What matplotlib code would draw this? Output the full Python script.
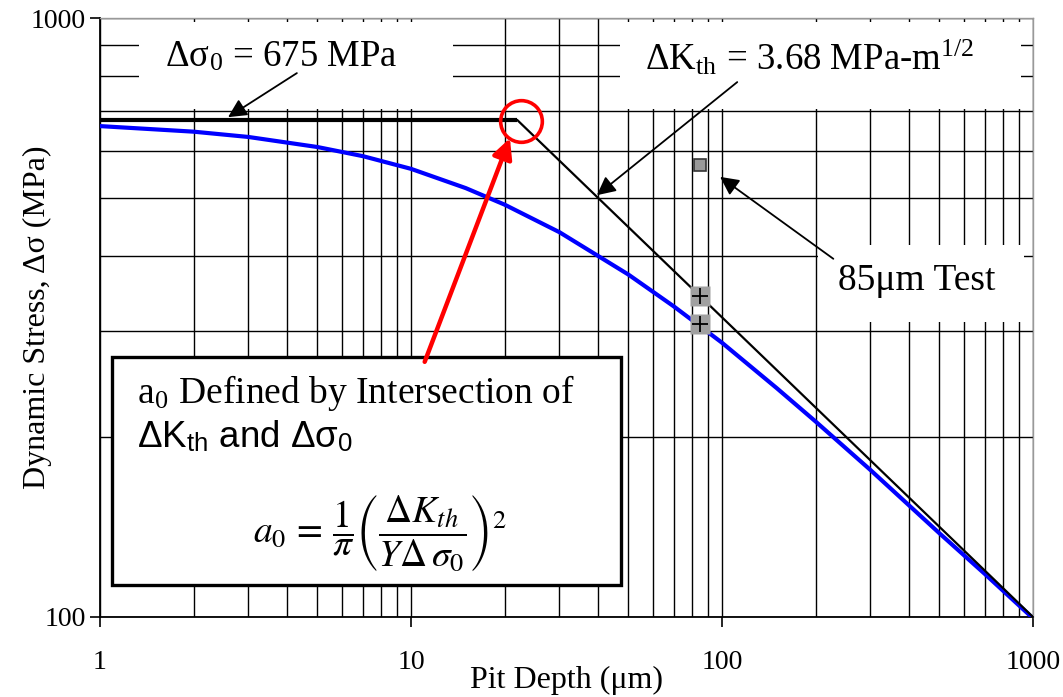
"""Kitagawa-Takahashi style plot: dynamic stress vs pit depth."""

import matplotlib
matplotlib.use("Agg")
import matplotlib.pyplot as plt
from matplotlib.patches import Rectangle
from matplotlib.ticker import LogLocator, FixedFormatter, FixedLocator, NullFormatter

SERIF = "Liberation Serif"
SANS = "Liberation Sans"

# threshold line (delta sigma_0 plateau, then delta K_th slope)
thresh_x = [1, 22, 1000]
thresh_y = [675, 675, 100]

# El Haddad type curve
curve_x = [1, 2, 3, 5, 7, 10, 15, 20, 30, 50, 70, 100, 150, 200, 300, 500, 700, 1000]
curve_y = [660, 646, 633, 609, 588, 560, 520, 488, 439, 373, 330, 287, 241, 212, 176, 138, 118, 99.5]

# 85 um test points
test_x = [85]
test_y = [568]
runout_x = [85, 85]
runout_y = [343, 308]

a0_x = [22.6]
a0_y = [673]

x_ticks = [1, 10, 100, 1000]
x_labels = ["1", "10", "100", "1000"]
y_ticks = [100, 1000]
y_labels = ["100", "1000"]

fig = plt.figure(figsize=(10.63, 6.97), dpi=100)
ax = fig.add_axes([100 / 1063, 1 - 617 / 697, 933 / 1063, 599 / 697])
ax.set_xscale("log")
ax.set_yscale("log")
ax.set_xlim(1, 1000)
ax.set_ylim(100, 1000)

ax.xaxis.set_major_locator(FixedLocator(x_ticks))
ax.xaxis.set_major_formatter(FixedFormatter(x_labels))
ax.yaxis.set_major_locator(FixedLocator(y_ticks))
ax.yaxis.set_major_formatter(FixedFormatter(y_labels))
ax.xaxis.set_minor_locator(LogLocator(base=10, subs=range(2, 10)))
ax.yaxis.set_minor_locator(LogLocator(base=10, subs=range(2, 10)))
ax.xaxis.set_minor_formatter(NullFormatter())
ax.yaxis.set_minor_formatter(NullFormatter())
ax.tick_params(which="minor", length=0)
ax.tick_params(axis="x", which="major", length=7, width=1.2, pad=17,
               labelsize=20, labelfontfamily=SERIF)
ax.tick_params(axis="y", which="major", length=7, width=1.2, pad=3,
               labelsize=20, labelfontfamily=SERIF)

ax.set_axisbelow(True)
ax.grid(which="both", color="black", linewidth=1.0)
for side in ("left", "bottom"):
    ax.spines[side].set_color("black")
    ax.spines[side].set_linewidth(1.3)
for side in ("top", "right"):
    ax.spines[side].set_color("#999999")
    ax.spines[side].set_linewidth(1.0)

# white patches that hide the grid behind the labels
for x0, x1, y0, y1 in [(0.042, 0.378, 0.848, 0.993),
                       (0.557, 0.987, 0.848, 0.993),
                       (0.770, 0.990, 0.492, 0.621)]:
    ax.add_patch(Rectangle((x0, y0), x1 - x0, y1 - y0, transform=ax.transAxes,
                           facecolor="white", edgecolor="none", zorder=1))

# curves
ax.plot(curve_x, curve_y, color="#0000ff", linewidth=3.0, zorder=3)
ax.plot(thresh_x[:2], thresh_y[:2], color="black", linewidth=3.0, zorder=4,
        solid_capstyle="butt")
ax.plot(thresh_x[1:], thresh_y[1:], color="black", linewidth=1.6, zorder=4)

ax.plot(test_x, test_y, linestyle="none", marker="s", markersize=9,
        markerfacecolor="#999999", markeredgecolor="#333333", markeredgewidth=1.2, zorder=5)
ax.plot(runout_x, runout_y, linestyle="none", marker="s", markersize=14,
        markerfacecolor="#a0a0a0", markeredgecolor="none", zorder=5)
ax.plot(runout_x, runout_y, linestyle="none", marker="+", markersize=11,
        markeredgecolor="black", markeredgewidth=1.3, zorder=6)

ax.plot(a0_x, a0_y, linestyle="none", marker="o", markersize=30,
        markerfacecolor="none", markeredgecolor="#ff0000", markeredgewidth=2.6, zorder=6)

# labels with arrows
black_arrow = dict(arrowstyle="-|>", mutation_scale=28, linewidth=1.3,
                   color="black", shrinkA=0, shrinkB=0)
ax.annotate("", xy=(2.58, 683), xycoords="data", xytext=(0.211, 0.908),
            textcoords="axes fraction", arrowprops=black_arrow, zorder=7)
ax.text(0.070, 0.935, r"Δσ$_\mathregular{0}$ = 675 MPa", transform=ax.transAxes,
        fontsize=26.5, family=SERIF, math_fontfamily="stix", va="center", ha="left")

ax.annotate("", xy=(39.6, 506), xycoords="data", xytext=(0.683, 0.893),
            textcoords="axes fraction", arrowprops=black_arrow, zorder=7)
ax.text(0.584, 0.932, r"ΔK$_\mathregular{th}$ = 3.68 MPa-m$^\mathregular{1/2}$",
        transform=ax.transAxes, fontsize=26.5, family=SERIF, math_fontfamily="stix",
        va="center", ha="left")

ax.annotate("", xy=(98.6, 543), xycoords="data", xytext=(0.786, 0.598),
            textcoords="axes fraction", arrowprops=black_arrow, zorder=7)
ax.text(0.791, 0.561, "85μm Test", transform=ax.transAxes, fontsize=27,
        family=SERIF, va="center", ha="left")

# explanation box
ax.add_patch(Rectangle((0.0129, 0.0534), 0.5455, 0.3806, transform=ax.transAxes,
                       facecolor="white", edgecolor="black", linewidth=2.4, zorder=8))
ax.text(0.0397, 0.357, r"a$_\mathregular{0}$ Defined by Intersection of",
        transform=ax.transAxes, fontsize=27, family=SERIF, math_fontfamily="stix",
        va="baseline", ha="left", zorder=9)
ax.text(0.0397, 0.284, r"ΔK$_\mathregular{th}$ and Δσ$_\mathregular{0}$",
        transform=ax.transAxes, fontsize=26.5, family=SANS, math_fontfamily="stixsans",
        va="baseline", ha="left", zorder=9)
ax.text(0.300, 0.140,
        r"$a_0 \,=\, \dfrac{1}{\pi}\left(\dfrac{\Delta K_{th}}{Y\Delta\,\sigma_0}\right)^2$",
        transform=ax.transAxes, fontsize=27, math_fontfamily="stix",
        va="center", ha="center", zorder=9)

ax.annotate("", xy=(20.8, 630), xycoords="data", xytext=(0.348, 0.426),
            textcoords="axes fraction", zorder=10,
            arrowprops=dict(arrowstyle="-|>", mutation_scale=30, linewidth=3.2,
                            color="#ff0000", shrinkA=0, shrinkB=0))

fig.text(566 / 1063, 0.024, "Pit Depth (μm)", fontsize=23, family=SERIF,
         ha="center", va="center")
fig.text(37 / 1063, 1 - 317 / 697, "Dynamic Stress, Δσ (MPa)", fontsize=23,
         family=SERIF, rotation=90, ha="center", va="center")

fig.savefig("out.png", dpi=100)
